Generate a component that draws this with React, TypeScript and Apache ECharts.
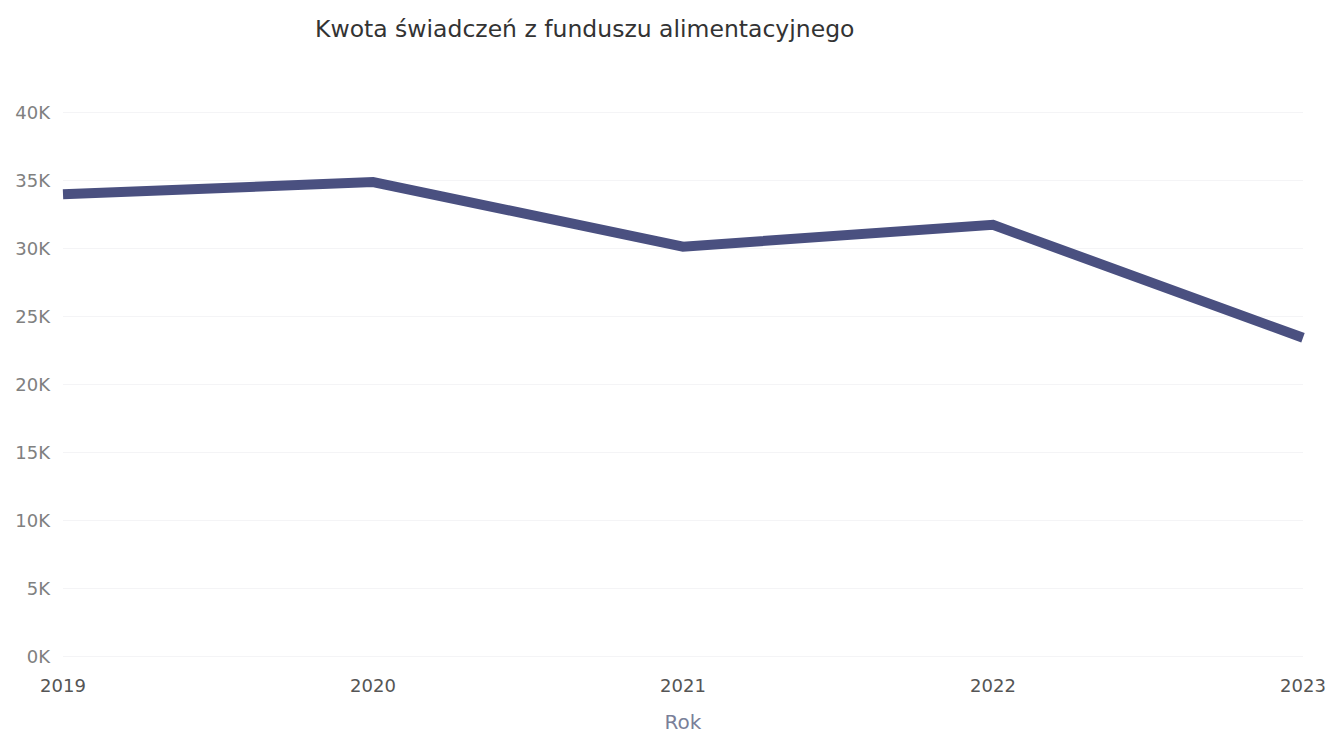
import React, { useEffect, useRef } from "react";
import * as echarts from "echarts";

const years = ["2019", "2020", "2021", "2022", "2023"];
const amounts = [33950, 34850, 30100, 31700, 23400];
const title = "Kwota świadczeń z funduszu alimentacyjnego";
const xName = "Rok";

export default function App() {
  const ref = useRef<HTMLDivElement>(null);
  useEffect(() => {
    if (!ref.current) return;
    const chart = echarts.init(ref.current, undefined, { renderer: "svg" });
    chart.setOption({
      animation: false,
      backgroundColor: "#ffffff",
      title: {
        text: title,
        left: 310,
        top: 12,
        textStyle: { fontFamily: "DejaVu Sans", fontSize: 23.5, fontWeight: 500, color: "#333333" },
      },
      grid: { left: 63, right: 32, top: 112, bottom: 82 },
      xAxis: {
        type: "category",
        data: years,
        boundaryGap: false,
        name: xName,
        nameLocation: "middle",
        nameGap: 56,
        nameTextStyle: { fontFamily: "DejaVu Sans", fontSize: 20, color: "#7a7f99" },
        axisLine: { show: false },
        axisTick: { show: false },
        axisLabel: { margin: 20, fontFamily: "DejaVu Sans", fontSize: 18, color: "#555555" },
      },
      yAxis: {
        type: "value",
        min: 0,
        max: 40000,
        interval: 5000,
        axisLine: { show: false },
        axisTick: { show: false },
        axisLabel: {
          margin: 13,
          fontFamily: "DejaVu Sans",
          fontSize: 18,
          color: "#808080",
          formatter: (v: number) => `${v / 1000}K`,
        },
        splitLine: { lineStyle: { color: "#f4f4f6", width: 1 } },
      },
      series: [
        {
          type: "line",
          data: amounts,
          symbol: "none",
          lineStyle: { color: "#4a5080", width: 10, join: "miter" },
        },
      ],
    });
    return () => chart.dispose();
  }, []);
  return <div ref={ref} style={{ position: "absolute", left: 0, top: 0, width: 1335, height: 738 }} />;
}
